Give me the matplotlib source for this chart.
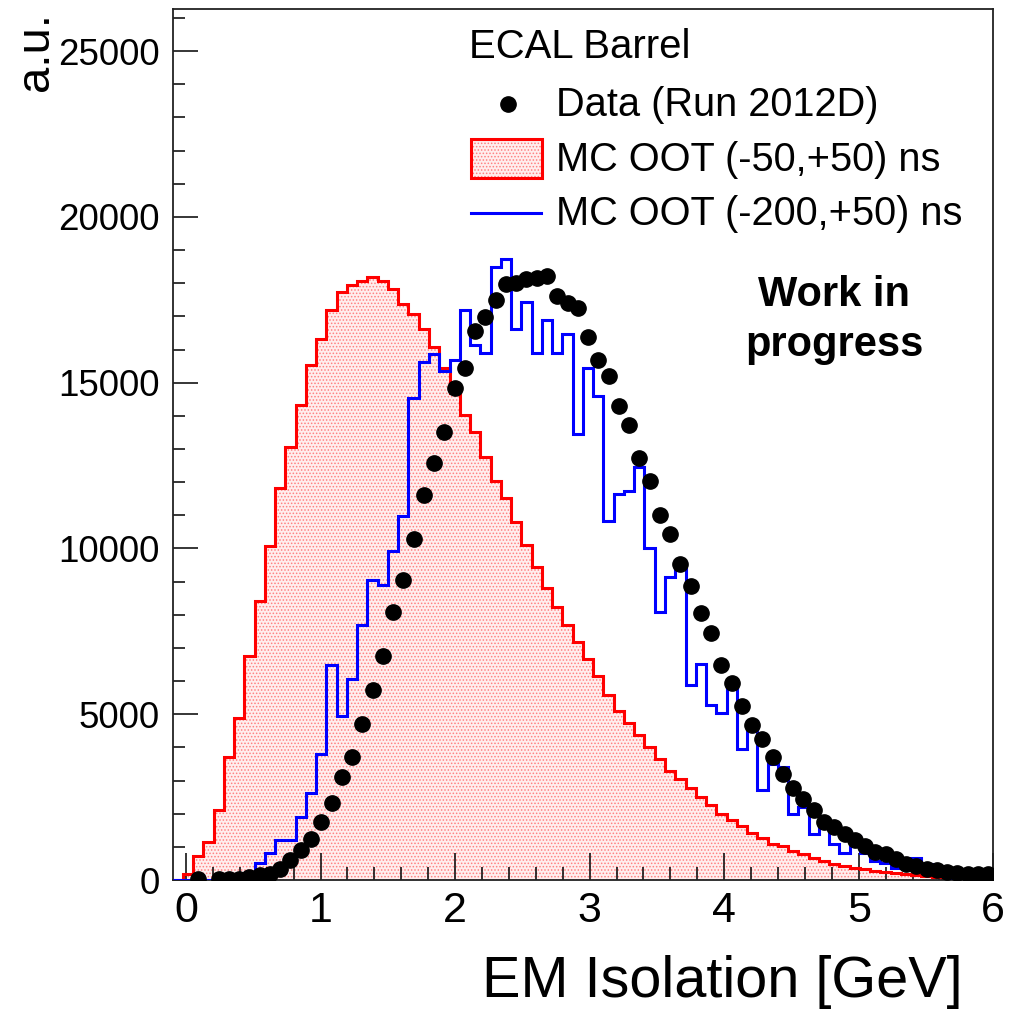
import numpy as np
import matplotlib
matplotlib.use("Agg")
import matplotlib.pyplot as plt
from matplotlib.lines import Line2D
from matplotlib.patches import Rectangle
from matplotlib.ticker import MultipleLocator

plt.rcParams['font.family'] = ['Liberation Sans', 'DejaVu Sans']
plt.rcParams['hatch.linewidth'] = 0.7

# Binning: 80 bins on [-0.1, 6.0] GeV
x_lo, x_hi, n_bins = -0.1, 6.0, 80
edges = np.linspace(x_lo, x_hi, n_bins + 1)
centers = 0.5 * (edges[:-1] + edges[1:])

# Data (Run 2012D); empty bins are not drawn
data_run2012d = [np.nan, np.nan, 30, np.nan, 30, 40, 40, 100, 150, 190,
                 320, 593, 910, 1225, 1750, 2328, 3102, 3705, 4720, 5744,
                 6768, 8072, 9057, 10293, 11597, 12570, 13503, 14850, 15452, 16557,
                 16987, 17490, 17961, 17991, 18123, 18163, 18213, 17611, 17389, 17238,
                 16364, 15683, 15211, 14290, 13726, 12720, 12039, 11020, 10431, 9517,
                 8880, 8066, 7449, 6497, 5943, 5241, 4669, 4238, 3705, 3202,
                 2780, 2431, 2099, 1756, 1596, 1385, 1195, 1024, 853, 773,
                 622, 472, 422, 322, 292, 251, 221, 190, 171, 171]

# MC OOT (-50,+50) ns
mc_oot_50 = [0, 190, 723, 1154, 2100, 3700, 4900, 6750, 8403, 10060,
             11816, 13072, 14328, 15533, 16316, 17189, 17720, 17942, 18063, 18183,
             18063, 17810, 17358, 17057, 16605, 16084, 15452, 14700, 14027, 13524,
             12771, 12039, 11515, 10783, 10111, 9428, 8804, 8232, 7700, 7178,
             6666, 6144, 5593, 5090, 4738, 4388, 4006, 3654, 3283, 3033,
             2780, 2510, 2259, 1997, 1798, 1626, 1425, 1274, 1094, 1024,
             873, 773, 672, 572, 491, 422, 370, 322, 271, 241,
             200, 170, 140, 115, 90, 70, 55, 45, 35, 30]

# MC OOT (-200,+50) ns
mc_oot_200 = [0, 0, 120, 0, 0, 120, 120, 221, 522, 823,
              1195, 1195, 1898, 2630, 3815, 6497, 4960, 6075, 7681, 9057,
              8906, 9910, 10964, 14548, 15632, 15852, 15352, 15683, 17189, 16135,
              15883, 18494, 18725, 16617, 17439, 15883, 16888, 15904, 16456, 13443,
              15452, 14608, 10813, 11627, 11728, 12470, 10020, 8092, 9126, 9600,
              5873, 6515, 5292, 5050, 5792, 3937, 4789, 2702, 3503, 3404,
              1979, 2199, 1376, 1777, 1075, 800, 1325, 823, 572, 500,
              371, 653, 653, 480, 422, 200, 10, 300, 230, 80]

x_ticks = [0, 1, 2, 3, 4, 5, 6]
y_ticks = [0, 5000, 10000, 15000, 20000, 25000]
y_max = 26270

W, H = 1011, 1009
fig = plt.figure(figsize=(W / 100, H / 100), dpi=100)


def fx(px):
    return px / W


def fy(py):
    return 1 - py / H


ax = fig.add_axes([fx(172.5), fy(880), fx(993.3) - fx(172.5), fy(9) - fy(880)])

red = '#ff0000'
blue = '#0000ff'
hatch_col = '#ff8080'
fill_bg = '#ffeeee'

# filled red histogram with dotted pattern
ax.stairs(mc_oot_50, edges, fill=True, facecolor=fill_bg, edgecolor=hatch_col,
          hatch='.....', linewidth=0, zorder=1)
ax.stairs(mc_oot_50, edges, color=red, linewidth=2.2, zorder=2)
ax.stairs(mc_oot_200, edges, color=blue, linewidth=2.2, zorder=3)
ax.plot(centers, data_run2012d, 'o', color='black', markersize=11, zorder=4,
        linestyle='none')

ax.set_xlim(x_lo, x_hi)
ax.set_ylim(0, y_max)
ax.set_xticks(x_ticks)
ax.set_yticks(y_ticks)
ax.xaxis.set_minor_locator(MultipleLocator(0.2))
ax.yaxis.set_minor_locator(MultipleLocator(1000))
ax.tick_params(axis='x', which='major', direction='in', length=19.5, width=1.1,
               labelsize=31, pad=8, top=False)
ax.tick_params(axis='x', which='minor', direction='in', length=9.5, width=1.1, top=False)
ax.tick_params(axis='y', which='major', direction='in', length=18, width=1.1,
               labelsize=26.5, pad=9, right=False)
ax.tick_params(axis='y', which='minor', direction='in', length=8.6, width=1.1, right=False)
for s in ax.spines.values():
    s.set_linewidth(1.3)
    s.set_color('#222222')

# axis titles
fig.text(fx(963), fy(997), 'EM Isolation [GeV]', fontsize=41.5,
         ha='right', va='baseline')
fig.text(fx(48), fy(12), 'a.u.', fontsize=34, rotation=90,
         rotation_mode='anchor', ha='right', va='baseline')

# legend
fs_leg = 28.6
fig.text(fx(469), fy(47), 'ECAL Barrel', fontsize=28.9, ha='left', va='center')
fig.add_artist(Line2D([fx(508)], [fy(104)], marker='o', color='black',
                      markersize=11, linestyle='none', transform=fig.transFigure))
fig.text(fx(556), fy(105), 'Data (Run 2012D)', fontsize=fs_leg, ha='left', va='center')
fig.add_artist(Rectangle((fx(471), fy(178)), fx(542) - fx(471), fy(139) - fy(178),
                         facecolor=fill_bg, edgecolor=hatch_col, hatch='.....',
                         linewidth=0, transform=fig.transFigure))
fig.add_artist(Rectangle((fx(471), fy(178)), fx(542) - fx(471), fy(139) - fy(178),
                         facecolor='none', edgecolor=red, linewidth=2.2,
                         transform=fig.transFigure))
fig.text(fx(556), fy(160), 'MC OOT (-50,+50) ns', fontsize=fs_leg, ha='left', va='center')
fig.add_artist(Line2D([fx(471), fx(541)], [fy(213), fy(213)], color=blue,
                      linewidth=2.2, transform=fig.transFigure))
fig.text(fx(556), fy(214), 'MC OOT (-200,+50) ns', fontsize=fs_leg, ha='left', va='center')

# annotation
fig.text(fx(834), fy(306), 'Work in', fontsize=30, fontweight='bold',
         ha='center', va='baseline')
fig.text(fx(834), fy(356), 'progress', fontsize=30, fontweight='bold',
         ha='center', va='baseline')

fig.savefig('out.png', dpi=100)
